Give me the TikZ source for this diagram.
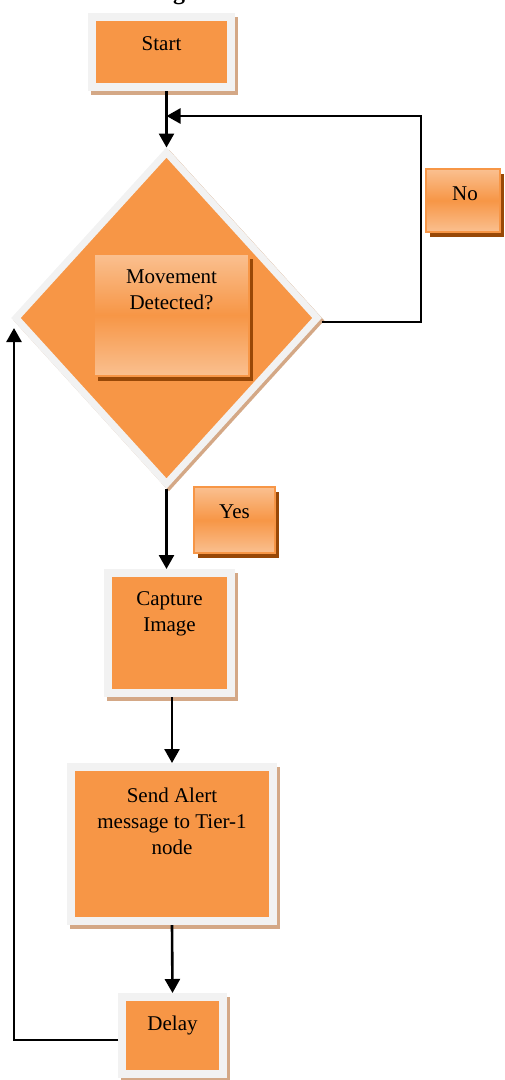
\documentclass[tikz,border=0pt]{standalone}
\usepackage{fontspec}
\setmainfont{Liberation Serif}
\usetikzlibrary{shapes.geometric,shadows,arrows.meta}
\definecolor{boxorange}{HTML}{F79646}
\definecolor{framegray}{HTML}{F2F2F2}
\definecolor{shadowtan}{HTML}{D4A886}
\definecolor{shadowbrown}{HTML}{984807}
\definecolor{peach}{HTML}{FAC090}
\tikzset{
  frame/.style={rectangle, draw=framegray, line width=8pt, fill=boxorange, inner sep=0pt,
    drop shadow={shadow xshift=3pt, shadow yshift=-4pt, fill=shadowtan, draw=shadowtan, line width=8pt, opacity=1}},
  glossy/.style={rectangle, draw=boxorange, line width=1.2pt, top color=peach, bottom color=peach, middle color=boxorange, inner sep=0pt,
    drop shadow={shadow xshift=4pt, shadow yshift=-4.5pt, fill=shadowbrown, opacity=1}},
  decision/.style={diamond, draw=framegray, line width=7pt, fill=boxorange, inner sep=0pt,
    drop shadow={shadow xshift=2.5pt, shadow yshift=-2.5pt, fill=shadowtan, draw=shadowtan, line width=7pt, opacity=1}},
  txt/.style={font=\fontsize{21}{26}\selectfont, align=center, inner sep=0pt},
  conn/.style={line width=2.6pt, -{Triangle[width=15pt,length=14pt]}},
}
\begin{document}
\begin{tikzpicture}[x=1pt,y=-1pt]
\useasboundingbox (0,0) rectangle (505,1080);
\begin{scope}
  \clip (0,0) rectangle (505,1080);
  \node[font=\bfseries\fontsize{24}{28}\selectfont, anchor=base, inner sep=0pt] (title) at (179,-1) {g};
\end{scope}

% boxes
\node[frame, minimum width=139pt, minimum height=70pt] (start) at (161.5,52) {};
\node[txt] (startT) at (161.5,44) {Start};

\node[decision, minimum width=304pt, minimum height=334pt] (dia) at (166.5,318) {};
\node[glossy, minimum width=155pt, minimum height=122pt] (mov) at (171.5,315) {};
\node[txt] (movT) at (171.5,290) {Movement\\Detected?};

\node[glossy, minimum width=74pt, minimum height=63pt] (no) at (463,200.5) {};
\node[txt] (noT) at (465,194) {No};

\node[glossy, minimum width=81pt, minimum height=66pt] (yes) at (234.5,520) {};
\node[txt] (yesT) at (234.5,512) {Yes};

\node[frame, minimum width=123pt, minimum height=120pt] (cap) at (169.5,633) {};
\node[txt] (capT) at (169.5,613.5) {Capture\\Image};

\node[frame, minimum width=202pt, minimum height=154pt] (send) at (172,844) {};
\node[txt] (sendT) at (172,821) {Send Alert\\message to Tier-1\\node};

\node[frame, minimum width=101pt, minimum height=77pt] (delay) at (172.5,1035.5) {};
\node[txt] (delayT) at (172.5,1025) {Delay};

% connectors
\coordinate (join) at (166.5,116);
\coordinate (nc) at (421,116);
\coordinate (lt) at (14,328);
\draw[conn] (start.south -| dia.north) -- (dia.north);
\draw[conn] ([yshift=-4pt]dia.east) -| (nc) -- (join);
\draw[conn] (dia.south) -- (dia.south |- cap.north);
\draw[conn] (cap.south -| send.north) -- (send.north);
\draw[conn] (send.south) -- (delay.north);
\draw[conn] ([yshift=-4.5pt]delay.west) -| (lt);
\end{tikzpicture}
\end{document}
